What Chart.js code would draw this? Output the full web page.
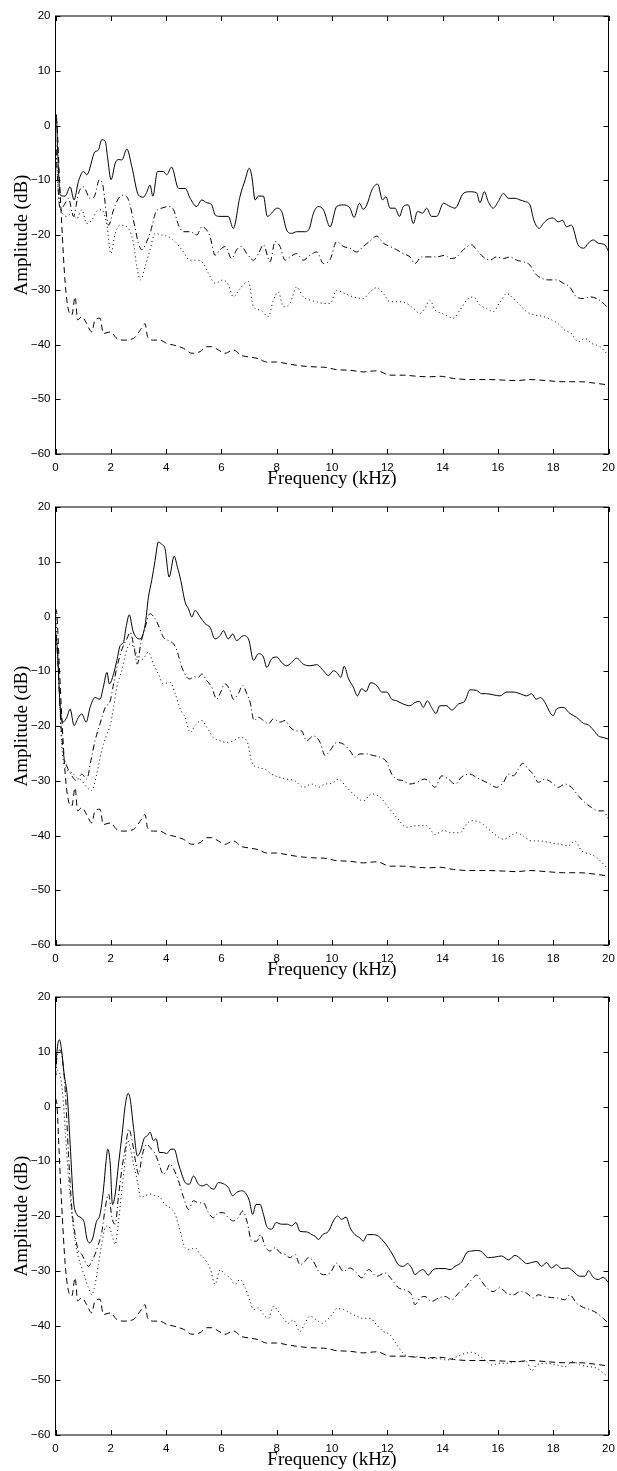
<!DOCTYPE html>
<html>
<head>
<meta charset="utf-8">
<script src="https://cdn.jsdelivr.net/npm/chart.js@4.4.1/dist/chart.umd.min.js"></script>
<style>
  html, body { margin: 0; padding: 0; background: #fff; overflow: hidden; }
  #page { position: relative; width: 617px; height: 1471px; overflow: hidden; }
  .panel { position: absolute; left: 0; width: 630px; height: 490px; }
</style>
</head>
<body>
<div id="page">
  <div class="panel" style="top:0px"><canvas id="chart1" width="630" height="490"></canvas></div>
  <div class="panel" style="top:491px"><canvas id="chart2" width="630" height="490"></canvas></div>
  <div class="panel" style="top:981px"><canvas id="chart3" width="630" height="490"></canvas></div>
</div>
<script>
// axis ticks
const xTicks = [0, 2, 4, 6, 8, 10, 12, 14, 16, 18, 20];
const yTicks = [-60, -50, -40, -30, -20, -10, 0, 10, 20];

// [frequency kHz, amplitude dB]
// lower dashed curve, same in every panel
const noiseFloor = [[0,1.5],[0.05,0.4],[0.14,-9.3],[0.23,-18.5],[0.35,-28.8],[0.47,-33.7],[0.59,-34.6],[0.71,-31.3],[0.8,-35.5],[0.95,-34.9],[1.13,-36.2],[1.31,-37.7],[1.43,-35.5],[1.61,-35.2],[1.73,-38],[1.98,-37.7],[2.22,-38.9],[2.46,-39.2],[2.82,-38.9],[3.06,-37.4],[3.24,-36.2],[3.33,-38.6],[3.54,-39.2],[3.78,-39.2],[4.02,-39.8],[4.27,-40.1],[4.63,-40.7],[4.93,-41.6],[5.23,-41.3],[5.47,-40.4],[5.65,-40.4],[5.89,-41],[6.13,-41.6],[6.43,-41],[6.73,-42],[7.04,-42.3],[7.34,-42.6],[7.64,-43.2],[8.0,-43.2],[8.36,-43.5],[8.72,-43.8],[9.08,-44],[9.45,-44.1],[9.81,-44.2],[10.17,-44.6],[10.65,-44.7],[11.13,-45],[11.62,-44.8],[12.1,-45.6],[12.58,-45.6],[13.06,-45.8],[13.54,-45.9],[13.9,-45.8],[14.39,-46.2],[14.99,-46.4],[15.59,-46.4],[16.2,-46.5],[16.68,-46.6],[17.16,-46.4],[17.76,-46.6],[18.36,-46.8],[18.96,-46.8],[19.57,-47.1],[20,-47.4]];

// panel 1
const solid1 = [[0,1.6],[0.03,2.0],[0.08,-5],[0.17,-12.7],[0.35,-12.9],[0.53,-11.2],[0.67,-13.6],[0.83,-10.2],[1.01,-8.4],[1.13,-9],[1.43,-4.8],[1.55,-4.5],[1.67,-2.6],[1.8,-2.9],[1.88,-5.7],[2.01,-9.9],[2.16,-6.9],[2.28,-6.2],[2.4,-6.3],[2.58,-4.3],[2.76,-7.5],[3.0,-12.7],[3.18,-13.1],[3.28,-12.4],[3.42,-10.9],[3.52,-12.9],[3.69,-8.4],[3.9,-8.4],[4.02,-9],[4.2,-7.6],[4.45,-11.5],[4.69,-11.5],[4.87,-13.3],[5.1,-14.8],[5.29,-13.6],[5.47,-14.1],[5.65,-14.5],[5.77,-16.3],[5.95,-16.6],[6.25,-16.6],[6.43,-18.8],[6.67,-13],[6.86,-9.9],[7.01,-7.8],[7.1,-9.3],[7.22,-13.6],[7.34,-12.9],[7.52,-12.9],[7.66,-16.6],[7.82,-16],[8.0,-15.1],[8.18,-15.7],[8.36,-19.1],[8.54,-19.7],[8.72,-19.4],[9.02,-19.4],[9.18,-18.8],[9.33,-16],[9.51,-14.8],[9.69,-15.4],[9.93,-18.5],[10.17,-14.8],[10.41,-14.5],[10.65,-15.1],[10.8,-16.8],[10.99,-14.2],[11.13,-15.3],[11.26,-14.5],[11.44,-11.8],[11.65,-10.7],[11.83,-13.6],[11.95,-13],[12.1,-15.1],[12.28,-15.1],[12.44,-16.6],[12.58,-14.8],[12.76,-14.5],[12.94,-17.9],[13.09,-15.7],[13.28,-16],[13.42,-15.1],[13.6,-16.6],[13.79,-16.6],[14.03,-14.2],[14.27,-14.8],[14.45,-15.1],[14.75,-12.4],[14.99,-12.1],[15.23,-12.3],[15.35,-14.1],[15.51,-12.1],[15.65,-13.9],[15.83,-15.1],[16.01,-13.9],[16.2,-12.4],[16.38,-13.3],[16.62,-13.3],[16.8,-13.6],[16.98,-13.9],[17.16,-14.5],[17.3,-17.3],[17.5,-18.8],[17.64,-17.9],[17.82,-17.1],[18.0,-16.9],[18.18,-17.6],[18.34,-17.3],[18.48,-18.5],[18.66,-18.2],[18.9,-21.8],[19.11,-22.4],[19.27,-21.5],[19.45,-20.9],[19.63,-21.5],[19.87,-21.8],[20,-23]];
const dashDot1 = [[0,-2],[0.1,-12],[0.17,-15.4],[0.35,-14.2],[0.47,-13.3],[0.65,-16.6],[0.83,-12.4],[1.01,-11.2],[1.25,-13.3],[1.4,-13],[1.59,-9.9],[1.71,-10.9],[1.92,-18.2],[2.1,-15.4],[2.28,-13.3],[2.46,-12.7],[2.64,-13.6],[2.82,-17.3],[3.0,-21.5],[3.12,-22.7],[3.3,-21.2],[3.42,-19.7],[3.64,-15.7],[3.84,-15.1],[4.08,-14.8],[4.27,-15.4],[4.45,-18.2],[4.63,-19.4],[4.87,-19.4],[5.11,-20],[5.29,-18.5],[5.47,-19.1],[5.59,-20.3],[5.77,-23.7],[5.95,-22.7],[6.14,-22.1],[6.37,-24.3],[6.55,-22.7],[6.73,-22.1],[6.92,-23.4],[7.16,-24.6],[7.34,-23.4],[7.52,-21.8],[7.76,-24.9],[7.94,-21.2],[8.12,-22.1],[8.3,-24.6],[8.48,-24],[8.72,-23.4],[8.96,-24.6],[9.2,-23.7],[9.45,-23.1],[9.69,-25.2],[9.93,-24.5],[10.17,-21.2],[10.41,-22.1],[10.65,-22.4],[10.89,-23.1],[11.13,-22.1],[11.35,-21.2],[11.62,-20.2],[11.86,-21.5],[12.1,-22.1],[12.34,-22.7],[12.58,-23.4],[12.82,-24],[13.0,-25.2],[13.24,-24],[13.54,-24],[13.79,-24],[14.09,-23.7],[14.27,-24.3],[14.51,-24],[14.75,-22.7],[15.05,-21.8],[15.23,-22.7],[15.47,-24],[15.71,-24.6],[15.95,-24],[16.2,-24.3],[16.44,-24],[16.68,-24.6],[16.92,-24.9],[17.16,-25.5],[17.34,-27],[17.58,-27.9],[17.82,-28.2],[18.12,-28.2],[18.36,-28.8],[18.6,-29.5],[18.84,-31.3],[19.09,-31.6],[19.33,-31.3],[19.57,-31.6],[19.75,-32.2],[20,-33.4]];
const dotted1 = [[0,-3],[0.12,-13],[0.23,-15.7],[0.41,-16.6],[0.59,-16],[0.77,-17],[0.95,-15.4],[1.13,-17.9],[1.31,-17.3],[1.49,-15.7],[1.67,-15.4],[1.86,-18.2],[2.0,-23.4],[2.16,-19.7],[2.34,-18.2],[2.58,-18.5],[2.82,-21.5],[2.94,-25.8],[3.08,-28.2],[3.24,-25.8],[3.42,-22.7],[3.6,-19.7],[3.84,-20],[4.08,-20.3],[4.33,-21.2],[4.57,-22.7],[4.87,-24.6],[5.11,-24.6],[5.35,-25.2],[5.53,-27],[5.77,-28.8],[6.07,-28.2],[6.25,-29.1],[6.43,-31.3],[6.67,-29.8],[6.98,-28.5],[7.16,-33.1],[7.4,-33.7],[7.7,-34.9],[7.88,-31.9],[8.06,-30.4],[8.24,-33.1],[8.48,-32.5],[8.72,-29.5],[8.96,-31.3],[9.2,-31.9],[9.45,-32.2],[9.69,-32.5],[9.93,-32.5],[10.17,-30.1],[10.47,-30.7],[10.77,-31.3],[11.13,-31.6],[11.38,-30.4],[11.62,-29.6],[11.86,-30.7],[12.1,-32.2],[12.4,-32.2],[12.7,-32.5],[12.94,-33.4],[13.18,-34.3],[13.36,-33.4],[13.54,-31.9],[13.73,-33.7],[13.97,-34.3],[14.21,-34.9],[14.39,-35.2],[14.63,-33.7],[14.87,-31.9],[15.11,-31.3],[15.35,-32.8],[15.59,-33.4],[15.83,-34],[16.08,-32.2],[16.32,-30.7],[16.56,-31.6],[16.8,-32.8],[17.04,-34],[17.34,-34.6],[17.64,-34.9],[17.94,-35.5],[18.18,-36.2],[18.42,-37.4],[18.66,-38],[18.9,-39.5],[19.15,-38.9],[19.39,-39.8],[19.69,-40.4],[20,-42]];

// panel 2
const solid2 = [[0,-2.6],[0.07,-6.2],[0.17,-16.6],[0.27,-19.3],[0.41,-18.4],[0.53,-16.9],[0.67,-19.9],[0.83,-18.4],[0.95,-17.8],[1.11,-19.3],[1.25,-16.6],[1.43,-14.8],[1.61,-15.1],[1.73,-12.9],[1.86,-10.2],[1.95,-12.3],[2.1,-10.5],[2.22,-8],[2.34,-5.3],[2.46,-4.7],[2.55,-2],[2.67,0.3],[2.8,-2.6],[2.92,-3.8],[3.06,-4.1],[3.24,-1.6],[3.36,3.5],[3.48,6.6],[3.6,10.2],[3.72,13.6],[3.84,13.2],[3.96,12.4],[4.11,7.2],[4.29,11],[4.41,9],[4.53,6.6],[4.69,2.6],[4.81,1.4],[4.93,-0.1],[5.05,1.1],[5.23,-0.1],[5.41,-1.3],[5.59,-2],[5.77,-4.1],[5.95,-3.5],[6.07,-2.6],[6.25,-4.1],[6.41,-3.2],[6.55,-4.4],[6.8,-3.5],[6.98,-4.1],[7.16,-8],[7.34,-6.8],[7.52,-7.4],[7.64,-9.3],[7.82,-7.7],[8.0,-7.4],[8.18,-8.4],[8.36,-9],[8.54,-8.4],[8.72,-7.6],[8.96,-8.7],[9.2,-9],[9.45,-8.8],[9.69,-9.9],[9.87,-10.8],[10.05,-9.9],[10.17,-10.2],[10.32,-11.1],[10.44,-9.1],[10.6,-11.4],[10.77,-12.9],[10.92,-14.5],[11.07,-13.2],[11.23,-13.7],[11.4,-12.1],[11.62,-12.6],[11.8,-13.8],[11.98,-13.8],[12.16,-15.1],[12.34,-15.4],[12.58,-16],[12.82,-16.3],[13.0,-15.7],[13.16,-15.5],[13.3,-16.6],[13.45,-15.4],[13.6,-16.6],[13.76,-17.7],[13.9,-16.3],[14.15,-16.3],[14.33,-17.1],[14.57,-16],[14.81,-15.4],[14.99,-13.4],[15.23,-13.5],[15.41,-14.1],[15.59,-14.1],[15.83,-14.3],[16.07,-14.5],[16.32,-13.8],[16.56,-13.8],[16.8,-14.1],[17.04,-14.5],[17.22,-14.1],[17.38,-15.1],[17.54,-14.8],[17.7,-15.7],[17.88,-17.5],[18.0,-18.1],[18.12,-16.9],[18.36,-16.6],[18.6,-17.7],[18.84,-18.4],[19.09,-19.5],[19.27,-19.8],[19.45,-20.7],[19.63,-21.8],[19.81,-22.1],[20,-22.4]];
const dashDot2 = [[0,-1],[0.1,-10],[0.2,-20],[0.29,-25.1],[0.41,-27.3],[0.59,-29.1],[0.77,-30],[0.95,-28.8],[1.13,-29.7],[1.28,-26.3],[1.43,-22.7],[1.61,-19.6],[1.8,-16.6],[1.98,-15.4],[2.1,-12.3],[2.22,-9.3],[2.41,-5.9],[2.58,-4.1],[2.7,-2.9],[2.84,-5.6],[2.96,-8.7],[3.08,-5],[3.24,-2],[3.42,0.5],[3.6,-0.4],[3.72,-1.6],[3.9,-3.8],[4.08,-4.4],[4.27,-5],[4.39,-6.2],[4.57,-9.3],[4.75,-11.1],[4.87,-11.4],[4.99,-11],[5.17,-11.1],[5.29,-10.5],[5.47,-11.7],[5.65,-12.9],[5.83,-15.1],[5.95,-14.1],[6.13,-12.3],[6.31,-13.5],[6.43,-15.1],[6.61,-14.1],[6.77,-12.6],[6.92,-14.1],[7.04,-15.7],[7.18,-19],[7.34,-18.4],[7.52,-19],[7.7,-19.6],[7.88,-18.7],[8.12,-19.3],[8.3,-19],[8.48,-20.2],[8.72,-20.9],[8.9,-20.9],[9.08,-22.7],[9.33,-21.8],[9.57,-23],[9.75,-25.4],[9.93,-24.5],[10.17,-23],[10.41,-23.3],[10.65,-24.5],[10.83,-25.7],[11.01,-25.1],[11.26,-25.1],[11.5,-25.4],[11.74,-25.7],[11.98,-26.6],[12.16,-28.8],[12.34,-29.7],[12.58,-30],[12.82,-30.6],[13.06,-30.3],[13.36,-29.7],[13.54,-30.3],[13.72,-31.2],[13.97,-29.1],[14.21,-29.7],[14.45,-30.6],[14.69,-29.3],[14.99,-28.8],[15.23,-29.4],[15.47,-30],[15.71,-30.6],[15.95,-31.2],[16.2,-30.3],[16.38,-28.8],[16.56,-29.1],[16.74,-27.9],[16.9,-26.8],[17.1,-27.9],[17.28,-28.8],[17.46,-30.3],[17.7,-29.7],[17.94,-30.3],[18.18,-31.2],[18.42,-30.6],[18.66,-31.2],[18.9,-32.7],[19.15,-34],[19.39,-34.9],[19.63,-35.5],[19.81,-35.5],[20,-37]];
const dotted2 = [[0,1.7],[0.11,-9.9],[0.23,-23.9],[0.41,-27.9],[0.59,-28.5],[0.77,-29.4],[0.95,-30],[1.13,-31.2],[1.31,-31.8],[1.49,-28.8],[1.67,-24.5],[1.86,-21.5],[1.98,-19.9],[2.1,-16.6],[2.22,-12.9],[2.41,-9.6],[2.55,-6.5],[2.7,-5],[2.89,-6.2],[3.0,-8],[3.18,-7.7],[3.36,-6.5],[3.54,-8.7],[3.72,-10.5],[3.9,-12.3],[4.14,-12],[4.33,-14.1],[4.51,-16.9],[4.69,-18.4],[4.87,-21.2],[5.05,-19.9],[5.29,-19],[5.47,-20.2],[5.71,-22.1],[5.95,-22.7],[6.19,-23],[6.43,-22.7],[6.67,-22.1],[6.92,-22.7],[7.1,-26.6],[7.34,-27.6],[7.58,-27.9],[7.82,-28.8],[8.12,-29.4],[8.36,-29.7],[8.66,-30],[8.96,-31.2],[9.27,-30.6],[9.51,-31.2],[9.75,-30.6],[9.99,-30.5],[10.23,-29.7],[10.53,-31.2],[10.83,-32.7],[11.13,-33.7],[11.44,-32.4],[11.74,-33],[12.04,-34.9],[12.34,-36.7],[12.7,-38.5],[13.06,-38.2],[13.42,-38.2],[13.73,-39.8],[14.03,-39.1],[14.33,-39.5],[14.63,-39.5],[14.87,-37.9],[15.05,-37.3],[15.35,-37.6],[15.59,-38.5],[15.89,-39.8],[16.2,-40.7],[16.44,-40.1],[16.68,-39.5],[16.92,-40.1],[17.22,-41],[17.52,-41],[17.88,-41.3],[18.24,-41.6],[18.54,-41.9],[18.78,-41],[19.03,-42.8],[19.33,-43.4],[19.57,-44],[19.81,-45.2],[20,-46.2]];

// panel 3
const solid3 = [[0,6.6],[0.07,10.9],[0.14,12.2],[0.22,10.3],[0.31,6],[0.43,1.7],[0.53,-6.9],[0.65,-17.2],[0.77,-19.7],[0.92,-20.3],[1.04,-21.2],[1.13,-24],[1.23,-24.9],[1.35,-24],[1.47,-21.2],[1.61,-19.7],[1.73,-15.4],[1.83,-9.9],[1.89,-7.8],[1.98,-10.5],[2.06,-17.9],[2.16,-16],[2.28,-10.5],[2.41,-5],[2.53,0.5],[2.63,2.4],[2.7,1.4],[2.82,-3.8],[2.96,-9],[3.08,-8.1],[3.2,-5.9],[3.33,-5.3],[3.42,-4.7],[3.54,-6.2],[3.64,-5.9],[3.76,-8.4],[3.9,-8.4],[4.02,-8.6],[4.17,-7.8],[4.29,-7.8],[4.45,-10.5],[4.57,-12.4],[4.69,-13.9],[4.84,-14.2],[4.99,-12.7],[5.17,-14.2],[5.33,-14.5],[5.47,-14.2],[5.59,-14.8],[5.73,-15.1],[5.89,-13.9],[6.07,-14.1],[6.25,-14.8],[6.41,-16.3],[6.55,-15.7],[6.73,-15.4],[6.86,-15.7],[7.01,-17.2],[7.13,-19.7],[7.25,-17.9],[7.4,-17.9],[7.52,-19.7],[7.66,-22.1],[7.82,-22.4],[7.98,-21.2],[8.18,-21.5],[8.39,-21.5],[8.54,-21.8],[8.7,-21.2],[8.84,-22.8],[9.08,-22.9],[9.27,-23.4],[9.39,-23.7],[9.51,-24.3],[9.66,-23.4],[9.87,-22.8],[10.05,-20.9],[10.2,-20],[10.35,-20.6],[10.51,-20.2],[10.65,-22.1],[10.83,-23.4],[11.01,-24],[11.13,-24.6],[11.28,-23.4],[11.5,-23.4],[11.68,-23.7],[11.86,-24.6],[12.04,-25.8],[12.22,-27.3],[12.4,-28.9],[12.58,-29.2],[12.73,-28.7],[12.88,-29.5],[13.0,-30.7],[13.16,-30.1],[13.3,-29.8],[13.48,-30.8],[13.66,-29.8],[13.85,-29.6],[14.09,-29.6],[14.27,-29.8],[14.45,-29.2],[14.69,-28.4],[14.87,-26.7],[15.05,-26.4],[15.23,-26.3],[15.41,-26.5],[15.65,-27.6],[15.89,-27.5],[16.13,-27.3],[16.38,-28],[16.62,-27.2],[16.86,-28],[17.04,-28.7],[17.22,-28.5],[17.4,-28.3],[17.58,-29.2],[17.76,-28.5],[17.94,-29.5],[18.12,-28.9],[18.3,-29.6],[18.54,-29.5],[18.72,-30.1],[18.96,-31],[19.15,-31],[19.27,-30],[19.45,-31.2],[19.63,-31.6],[19.81,-31.2],[20,-32.2]];
const dashDot3 = [[0,5.4],[0.07,9.7],[0.17,10.3],[0.27,7.8],[0.36,2.3],[0.47,-8.7],[0.59,-18.5],[0.71,-23.4],[0.83,-26.4],[0.95,-27],[1.07,-28.3],[1.19,-29.2],[1.31,-28.3],[1.43,-27],[1.55,-25.2],[1.67,-23.1],[1.8,-18.5],[1.92,-16],[2.04,-20.3],[2.16,-21.5],[2.28,-16.3],[2.41,-11.1],[2.53,-7.5],[2.65,-4.1],[2.77,-6.2],[2.89,-9.9],[3.01,-12.4],[3.13,-9],[3.31,-6.9],[3.42,-7.5],[3.54,-8.1],[3.66,-9.3],[3.78,-11.1],[3.9,-12.4],[4.02,-11.7],[4.14,-10.5],[4.27,-11.4],[4.45,-13.6],[4.63,-16.6],[4.81,-18.8],[4.99,-17.2],[5.17,-17.6],[5.35,-17.6],[5.53,-19.4],[5.71,-20.3],[5.89,-19.4],[6.07,-19.4],[6.25,-20.3],[6.43,-20.9],[6.61,-20.3],[6.77,-19.1],[6.92,-20.9],[7.1,-24.6],[7.28,-24.6],[7.42,-23.4],[7.58,-25.5],[7.76,-26.4],[7.94,-25.8],[8.12,-26.7],[8.3,-27],[8.48,-27.6],[8.66,-27],[8.84,-28.9],[9.02,-28.3],[9.14,-27.6],[9.33,-28.3],[9.51,-30.1],[9.69,-30.7],[9.93,-30.4],[10.17,-28.6],[10.41,-30.1],[10.65,-29.5],[10.89,-30.4],[11.07,-31.3],[11.32,-29.8],[11.62,-31],[11.92,-30.4],[12.16,-31.6],[12.4,-33.1],[12.64,-33.5],[12.88,-34.4],[13.0,-36.2],[13.18,-35],[13.36,-34.7],[13.6,-35.6],[13.85,-35],[14.09,-34.7],[14.33,-35.3],[14.57,-34.1],[14.81,-33.1],[15.05,-31.6],[15.23,-30.8],[15.41,-31.9],[15.59,-33.1],[15.83,-33.8],[16.07,-33.1],[16.32,-34.1],[16.56,-34.4],[16.8,-33.8],[17.04,-34.1],[17.28,-35],[17.46,-34.4],[17.7,-34.7],[17.94,-34.9],[18.18,-35],[18.42,-35.3],[18.6,-34.4],[18.84,-35.9],[19.09,-36.7],[19.33,-37.1],[19.57,-37.7],[19.81,-38.7],[20,-39.6]];
const dotted3 = [[0,5.1],[0.07,6.6],[0.17,5.7],[0.27,1.7],[0.36,-5],[0.47,-13],[0.59,-19.7],[0.71,-24.6],[0.83,-27.6],[0.95,-29.5],[1.07,-31.3],[1.19,-33.1],[1.31,-34.4],[1.43,-32.5],[1.55,-28.9],[1.67,-25.2],[1.8,-22.1],[1.92,-21.8],[2.04,-23.4],[2.16,-25.2],[2.28,-20.9],[2.41,-14.8],[2.53,-9.3],[2.6,-6.2],[2.7,-7.5],[2.82,-10.5],[2.96,-13.6],[3.08,-16.6],[3.24,-16.3],[3.42,-16],[3.6,-16.3],[3.78,-16.6],[3.96,-17.9],[4.14,-18.5],[4.33,-19.7],[4.51,-22.8],[4.69,-25.8],[4.87,-26.1],[5.05,-25.8],[5.23,-27],[5.41,-28],[5.59,-29.5],[5.77,-32.5],[5.95,-29.8],[6.13,-30.7],[6.31,-31.3],[6.49,-32.5],[6.67,-31.6],[6.86,-33.1],[7.04,-35.6],[7.16,-37.1],[7.34,-36.8],[7.52,-38],[7.7,-38.7],[7.88,-36.5],[8.06,-37.4],[8.24,-38.7],[8.42,-39.6],[8.6,-39],[8.84,-41.1],[9.02,-39.6],[9.2,-38.3],[9.45,-39],[9.63,-39.6],[9.81,-39],[10.05,-37.7],[10.17,-36.9],[10.41,-37.1],[10.65,-37.7],[10.89,-38.3],[11.13,-38.7],[11.38,-38.7],[11.62,-39.9],[11.86,-41.1],[12.1,-41.7],[12.34,-43.5],[12.58,-45.1],[12.82,-45.7],[13.06,-45.7],[13.42,-46],[13.79,-46],[14.15,-46.3],[14.51,-45.7],[14.81,-45.1],[15.05,-44.9],[15.29,-45.4],[15.53,-46.3],[15.77,-47.2],[16.07,-46.9],[16.38,-46.9],[16.68,-46.6],[17.04,-46.6],[17.22,-48.3],[17.4,-47.2],[17.76,-46.9],[18.12,-47.2],[18.42,-47.5],[18.72,-46.6],[18.96,-47.2],[19.27,-47.5],[19.57,-47.8],[19.81,-48.7],[20,-49.4]];

// box around the plot with inward ticks on all four sides
const boxPlugin = {
  id: "box",
  afterDraw(chart) {
    const { ctx, chartArea: a } = chart;
    const x = chart.scales.x, y = chart.scales.y;
    ctx.save();
    ctx.strokeStyle = "#000";
    ctx.lineWidth = 1;
    ctx.strokeRect(a.left, a.top, a.right - a.left, a.bottom - a.top);
    ctx.beginPath();
    xTicks.forEach((t) => {
      const px = Math.round(x.getPixelForValue(t)) + 0.5;
      ctx.moveTo(px, a.bottom); ctx.lineTo(px, a.bottom - 5);
      ctx.moveTo(px, a.top); ctx.lineTo(px, a.top + 5);
    });
    yTicks.forEach((t) => {
      const py = Math.round(y.getPixelForValue(t)) + 0.5;
      ctx.moveTo(a.left, py); ctx.lineTo(a.left + 5, py);
      ctx.moveTo(a.right, py); ctx.lineTo(a.right - 5, py);
    });
    ctx.stroke();
    ctx.restore();
  },
};

const minus = (v) => String(v).replace("-", "\u2212");

function makeChart(id, solid, dashDot, dotted) {
  const line = (pts, dash) => ({
    data: pts.map((p) => ({ x: p[0], y: p[1] })),
    borderColor: "#000",
    borderWidth: 1,
    borderDash: dash,
    pointRadius: 0,
    fill: false,
    cubicInterpolationMode: "monotone",
  });
  return new Chart(document.getElementById(id), {
    type: "line",
    data: {
      datasets: [
        line(solid, []),
        line(dashDot, [6, 3, 1, 3]),
        line(dotted, [1, 3]),
        line(noiseFloor, [6, 4]),
      ],
    },
    options: {
      responsive: false,
      animation: false,
      devicePixelRatio: 1,
      // canvas is 630 wide, plot right edge lands at 608.5
      layout: { padding: { top: 16, right: 21.5, left: 0, bottom: 0 } },
      plugins: { legend: { display: false }, tooltip: { enabled: false } },
      scales: {
        x: {
          type: "linear",
          min: xTicks[0],
          max: xTicks[xTicks.length - 1],
          grid: { display: false, drawTicks: false },
          border: { display: false },
          ticks: {
            stepSize: 2, autoSkip: false, maxRotation: 0, padding: 6.5,
            color: "#000",
            font: { family: "Liberation Sans", size: 11.5 },
            callback: minus,
          },
          title: {
            display: true,
            text: "Frequency (kHz)",
            color: "#000",
            font: { family: "Liberation Serif", size: 19 },
            padding: { top: 0, bottom: 0 },
          },
          afterFit: (s) => { s.height = 36; },
        },
        y: {
          type: "linear",
          min: yTicks[0],
          max: yTicks[yTicks.length - 1],
          grid: { display: false, drawTicks: false },
          border: { display: false },
          ticks: {
            stepSize: 10, autoSkip: false, padding: 5,
            color: "#000",
            font: { family: "Liberation Sans", size: 11.5 },
            callback: minus,
          },
          title: {
            display: true,
            text: "Amplitude (dB)",
            color: "#000",
            font: { family: "Liberation Serif", size: 19 },
            padding: { top: 10.6, bottom: 0 },
          },
          afterFit: (s) => { s.width = 55.5; },
        },
      },
    },
    plugins: [boxPlugin],
  });
}

makeChart("chart1", solid1, dashDot1, dotted1);
makeChart("chart2", solid2, dashDot2, dotted2);
makeChart("chart3", solid3, dashDot3, dotted3);
</script>
</body>
</html>
